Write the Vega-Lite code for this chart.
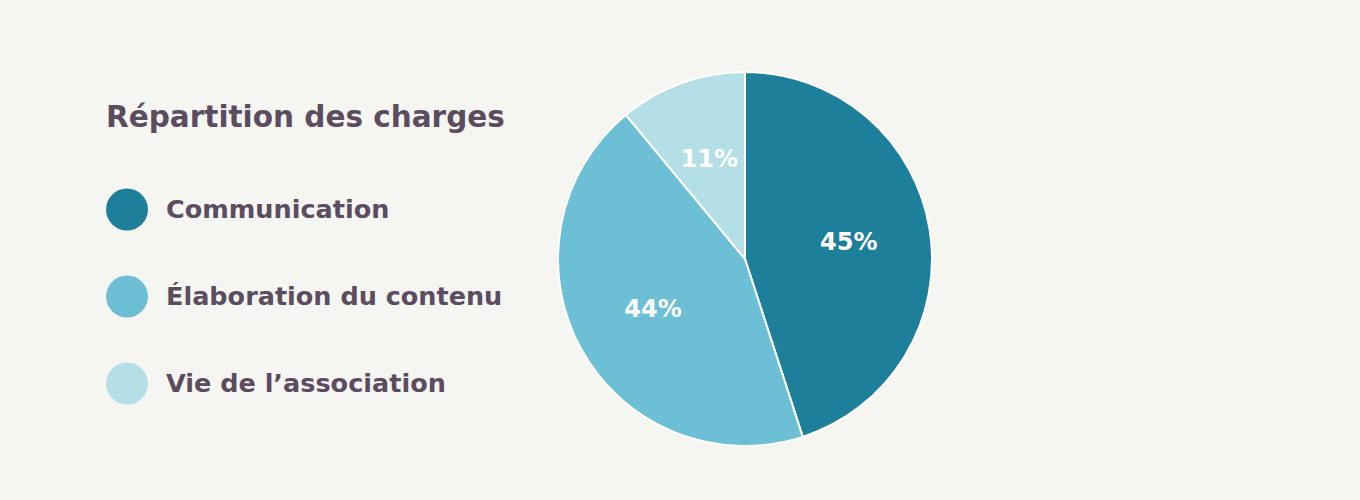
{
  "$schema": "https://vega.github.io/schema/vega-lite/v6.json",
  "width": 374,
  "height": 374,
  "autosize": {"type": "none"},
  "padding": {"left": 558, "top": 72, "right": 428, "bottom": 54},
  "background": "#f5f5f1",
  "data": {
    "values": [
      {"category": "Communication", "value": 0.45},
      {"category": "Élaboration du contenu", "value": 0.44},
      {"category": "Vie de l’association", "value": 0.11}
    ]
  },
  "encoding": {
    "theta": {"field": "value", "type": "quantitative", "stack": true},
    "order": {"field": "value", "sort": "descending"}
  },
  "layer": [
    {
      "mark": {"type": "arc", "stroke": "white", "strokeWidth": 2},
      "encoding": {
        "color": {
          "field": "category",
          "type": "nominal",
          "scale": {
            "domain": ["Communication", "Élaboration du contenu", "Vie de l’association"],
            "range": ["#1e7f9b", "#6dbfd5", "#b5dfe7"]
          },
          "legend": {
            "orient": "none",
            "legendX": -452,
            "legendY": 32,
            "title": "Répartition des charges",
            "titleFont": "DejaVu Sans",
            "titleFontSize": 29.5,
            "titleFontWeight": "bold",
            "titleColor": "#5b4c5f",
            "titlePadding": 55,
            "titleLimit": 700,
            "labelFont": "DejaVu Sans",
            "labelFontSize": 25.5,
            "labelFontWeight": "bold",
            "labelColor": "#5b4c5f",
            "labelOffset": 18,
            "labelLimit": 600,
            "symbolType": "circle",
            "symbolSize": 1764,
            "symbolStrokeWidth": 0,
            "symbolOpacity": 1,
            "rowPadding": 45,
            "padding": 0
          }
        }
      }
    },
    {
      "mark": {"type": "text", "radius": 105, "fill": "white", "font": "DejaVu Sans", "fontWeight": "bold", "fontSize": 24},
      "encoding": {
        "text": {"field": "value", "type": "quantitative", "format": ".0%"}
      }
    }
  ],
  "config": {"view": {"stroke": null}}
}
